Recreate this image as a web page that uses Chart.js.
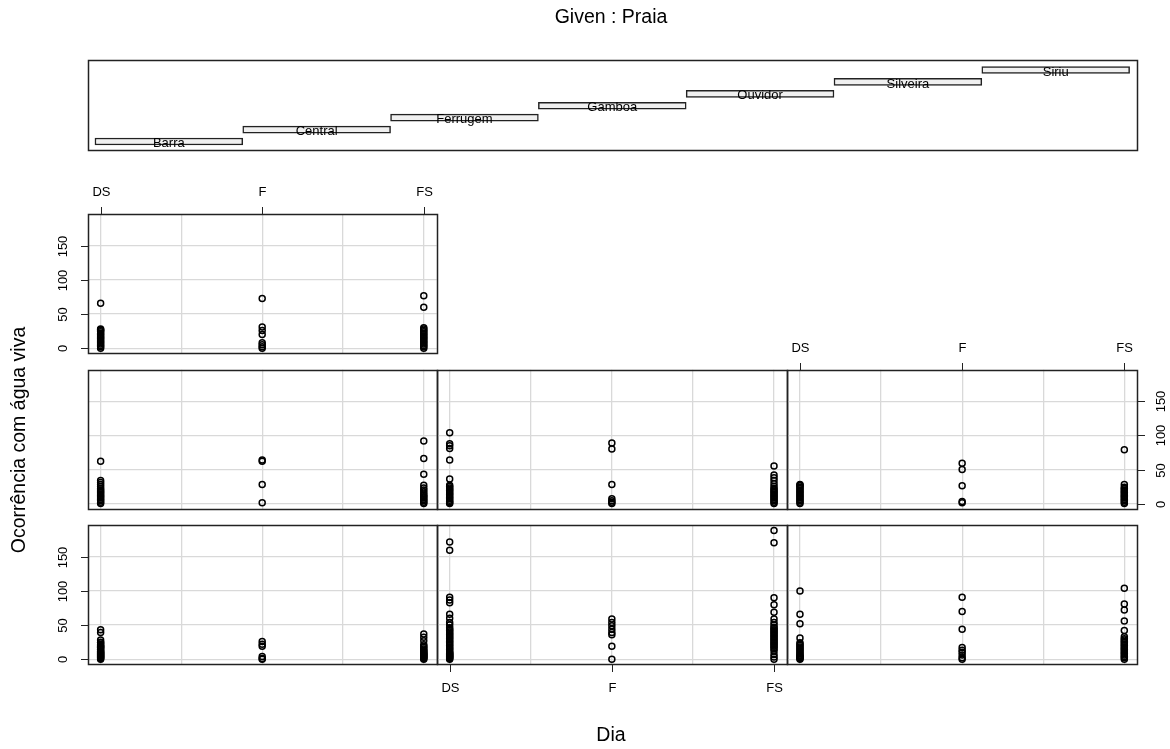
<!DOCTYPE html>
<html>
<head>
<meta charset="utf-8">
<title>Given : Praia</title>
<script src="https://cdn.jsdelivr.net/npm/chart.js@4.4.1/dist/chart.umd.min.js"></script>
<style>
  html, body { margin: 0; padding: 0; background: #ffffff; }
  #wrap { position: relative; width: 1170px; height: 749px; overflow: hidden; }
  #wrap canvas { position: absolute; left: 0; top: 0; }
</style>
</head>
<body>
<div id="wrap"></div>
<script>
// Conditioning factor levels and the x categories
const praias = ['Barra', 'Central', 'Ferrugem', 'Gamboa', 'Ouvidor', 'Silveira', 'Siriu'];
const dias = ['DS', 'F', 'FS'];
const yTicks = [0, 50, 100, 150];
const xGrid = [1, 1.5, 2, 2.5, 3];

// Given-panel intervals, one per level
const givenLo = [0.5, 1.5, 2.5, 3.5, 4.5, 5.5, 6.5];
const givenHi = [1.5, 2.5, 3.5, 4.5, 5.5, 6.5, 7.5];

// Ocorrência com água viva, per praia and dia
const barraDS = [43, 39, 28, 25, 24, 22, 20, 19, 18, 17, 15, 14, 12, 11, 10, 9, 8, 7, 6, 5, 4, 3, 2, 1, 0];
const barraF = [26, 22, 19, 4, 1, 0];
const barraFS = [37, 32, 27, 21, 19, 17, 15, 13, 12, 10, 9, 8, 7, 6, 5, 4, 3, 2, 1, 0];

const centralDS = [172, 160, 91, 87, 83, 66, 60, 54, 50, 46, 44, 42, 40, 38, 36, 34, 32, 30, 28, 26, 24, 22, 20, 18, 16, 14, 12, 10, 9, 8, 7, 6, 5, 4, 3, 2, 1, 0];
const centralF = [59, 54, 49, 44, 39, 36, 19, 0];
const centralFS = [189, 171, 90, 80, 69, 59, 54, 50, 47, 45, 43, 41, 39, 37, 35, 33, 31, 29, 27, 25, 23, 21, 19, 17, 15, 12, 7, 3, 0];

const ferrugemDS = [100, 66, 52, 31, 24, 22, 20, 18, 16, 14, 12, 10, 8, 6, 5, 4, 3, 2, 1, 0];
const ferrugemF = [91, 70, 44, 17, 13, 10, 6, 2, 0];
const ferrugemFS = [104, 81, 72, 56, 42, 33, 30, 28, 26, 24, 22, 20, 18, 16, 14, 12, 10, 8, 6, 4, 2, 0];

const gamboaDS = [62, 34, 31, 28, 25, 22, 20, 18, 16, 14, 12, 10, 8, 6, 4, 2, 0];
const gamboaF = [64, 62, 28, 1];
const gamboaFS = [92, 66, 43, 27, 23, 20, 17, 14, 12, 10, 8, 6, 4, 2, 0];

const ouvidorDS = [104, 88, 85, 81, 64, 36, 27, 25, 23, 21, 19, 17, 15, 13, 11, 9, 7, 5, 3, 1, 0];
const ouvidorF = [89, 80, 28, 7, 4, 2, 0];
const ouvidorFS = [55, 42, 38, 34, 29, 25, 22, 20, 18, 16, 14, 12, 10, 8, 6, 4, 2, 0];

const silveiraDS = [28, 27, 26, 24, 22, 20, 18, 16, 14, 12, 10, 8, 6, 4, 2, 0];
const silveiraF = [59, 50, 26, 3, 1];
const silveiraFS = [79, 28, 24, 22, 20, 18, 16, 14, 12, 10, 8, 6, 4, 2, 0];

const siriuDS = [66, 28, 27, 26, 24, 22, 20, 18, 16, 14, 12, 10, 8, 6, 4, 2, 0];
const siriuF = [73, 31, 26, 20, 8, 5, 2, 0];
const siriuFS = [77, 60, 30, 28, 26, 24, 22, 20, 18, 16, 14, 12, 10, 8, 6, 4, 2, 0];

const seriesByPraia = [
  [barraDS, barraF, barraFS],
  [centralDS, centralF, centralFS],
  [ferrugemDS, ferrugemF, ferrugemFS],
  [gamboaDS, gamboaF, gamboaFS],
  [ouvidorDS, ouvidorF, ouvidorFS],
  [silveiraDS, silveiraF, silveiraFS],
  [siriuDS, siriuF, siriuFS]
];

// Page geometry
const W = 1170, H = 749;
const colEdges = [87.7, 436.7, 787, 1137.3];
const rowTops = [525.3, 369.7, 214.3];   // bottom, middle, top row
const panelH = 139;
const givenBox = { left: 87.7, top: 60, right: 1137.3, bottom: 150 };
const FONT = '"Liberation Sans", Arial, Helvetica, sans-serif';
const TICK = 7.5;
const INK = '#222';

// Which panels carry axis annotation
const axisSides = { 0: ['left'], 1: ['bottom'], 5: ['top', 'right'], 6: ['top', 'left'] };

Chart.defaults.font.family = FONT;

const wrap = document.getElementById('wrap');
function newCanvas() {
  const c = document.createElement('canvas');
  c.width = W; c.height = H;
  c.style.width = W + 'px'; c.style.height = H + 'px';
  wrap.appendChild(c);
  return c;
}

function crisp(v) { return Math.round(v) + 0.5; }

function strokeBox(ctx, a) {
  ctx.save();
  ctx.strokeStyle = INK;
  ctx.lineWidth = 1.5;
  const l = Math.round(a.left), t = Math.round(a.top), r = Math.round(a.right), b = Math.round(a.bottom);
  ctx.strokeRect(l + 0.5, t + 0.5, r - l, b - t);
  ctx.restore();
}

// Panel box plus R-style axis ticks and labels
const panelFrame = {
  id: 'panelFrame',
  afterDatasetsDraw(chart) {
    strokeBox(chart.ctx, chart.chartArea);
  },
  afterDraw(chart, args, opts) {
    const sides = opts.sides || [];
    if (!sides.length) return;
    const { ctx, chartArea: a } = chart;
    const xs = chart.scales.x, ys = chart.scales.y;
    ctx.save();
    ctx.strokeStyle = INK;
    ctx.fillStyle = '#000';
    ctx.lineWidth = 1;
    ctx.font = '13px ' + FONT;
    ctx.textAlign = 'center';
    ctx.textBaseline = 'middle';
    sides.forEach(side => {
      if (side === 'top' || side === 'bottom') {
        const edge = side === 'top' ? Math.round(a.top) : Math.round(a.bottom);
        const dir = side === 'top' ? -1 : 1;
        dias.forEach((d, i) => {
          const px = crisp(xs.getPixelForValue(i + 1));
          ctx.beginPath();
          ctx.moveTo(px, edge + 0.5);
          ctx.lineTo(px, edge + 0.5 + dir * TICK);
          ctx.stroke();
          ctx.fillText(d, px, edge + dir * (side === 'top' ? 21.5 : 24));
        });
      } else {
        const edge = side === 'left' ? Math.round(a.left) : Math.round(a.right);
        const dir = side === 'left' ? -1 : 1;
        yTicks.forEach(v => {
          const py = crisp(ys.getPixelForValue(v));
          ctx.beginPath();
          ctx.moveTo(edge + 0.5, py);
          ctx.lineTo(edge + 0.5 + dir * TICK, py);
          ctx.stroke();
          ctx.save();
          ctx.translate(edge + dir * (side === 'left' ? 25 : 24.5), py);
          ctx.rotate(-Math.PI / 2);
          ctx.fillText(String(v), 0, 0);
          ctx.restore();
        });
      }
    });
    ctx.restore();
  }
};

// Conditioning panels
praias.forEach((p, i) => {
  const col = i % 3, row = Math.floor(i / 3);
  const left = colEdges[col], right = colEdges[col + 1];
  const top = rowTops[row], bottom = top + panelH;
  const pts = [];
  seriesByPraia[i].forEach((vals, d) => {
    vals.forEach(v => pts.push({ x: d + 1, y: v }));
  });
  new Chart(newCanvas(), {
    type: 'scatter',
    data: {
      datasets: [{
        label: p,
        data: pts,
        pointStyle: 'circle',
        pointRadius: 3,
        pointBorderWidth: 1.5,
        pointBackgroundColor: 'rgba(0,0,0,0)',
        pointBorderColor: '#000'
      }]
    },
    options: {
      responsive: false,
      animation: false,
      devicePixelRatio: 1,
      layout: { padding: { left: left, top: top, right: W - right, bottom: H - bottom } },
      plugins: {
        legend: { display: false },
        tooltip: { enabled: false },
        panelFrame: { sides: axisSides[i] || [] }
      },
      scales: {
        x: {
          type: 'linear', min: 0.92, max: 3.08,
          afterBuildTicks: s => { s.ticks = xGrid.map(v => ({ value: v })); },
          ticks: { display: false },
          border: { display: false },
          grid: { color: '#d9d9d9', lineWidth: 1.3, drawTicks: false }
        },
        y: {
          type: 'linear', min: -7.56, max: 196.56,
          afterBuildTicks: s => { s.ticks = yTicks.map(v => ({ value: v })); },
          ticks: { display: false },
          border: { display: false },
          grid: { color: '#d9d9d9', lineWidth: 1.3, drawTicks: false }
        }
      }
    },
    plugins: [panelFrame]
  });
});

// Given panel with the level bars, plus page titles
const givenDecor = {
  id: 'givenDecor',
  afterDatasetsDraw(chart) {
    const { ctx, chartArea: a } = chart;
    strokeBox(ctx, a);
    ctx.save();
    ctx.fillStyle = '#000';
    ctx.font = '13px ' + FONT;
    ctx.textAlign = 'center';
    ctx.textBaseline = 'middle';
    chart.getDatasetMeta(0).data.forEach((el, k) => {
      ctx.fillText(praias[k], (el.x + el.base) / 2, el.y + 2);
    });
    ctx.font = '19.5px ' + FONT;
    ctx.fillText('Given : Praia', 611, 18);
    ctx.fillText('Dia', 611, 736);
    ctx.translate(20, 440);
    ctx.rotate(-Math.PI / 2);
    ctx.fillText('Ocorrência com água viva', 0, 0);
    ctx.restore();
  }
};

new Chart(newCanvas(), {
  type: 'bar',
  data: {
    datasets: [{
      label: 'Praia',
      data: praias.map((p, k) => ({ y: k + 1, x: [givenLo[k], givenHi[k]] })),
      backgroundColor: '#f0f0f0',
      borderColor: INK,
      borderWidth: 1.5,
      borderSkipped: false,
      barThickness: 7
    }]
  },
  options: {
    indexAxis: 'y',
    responsive: false,
    animation: false,
    devicePixelRatio: 1,
    layout: { padding: { left: givenBox.left, top: givenBox.top, right: W - givenBox.right, bottom: H - givenBox.bottom } },
    plugins: { legend: { display: false }, tooltip: { enabled: false } },
    scales: {
      x: { type: 'linear', min: 0.451, max: 7.552, display: false },
      y: { type: 'linear', min: 0.29, max: 7.84, offset: false, display: false }
    }
  },
  plugins: [givenDecor]
});
</script>
</body>
</html>
